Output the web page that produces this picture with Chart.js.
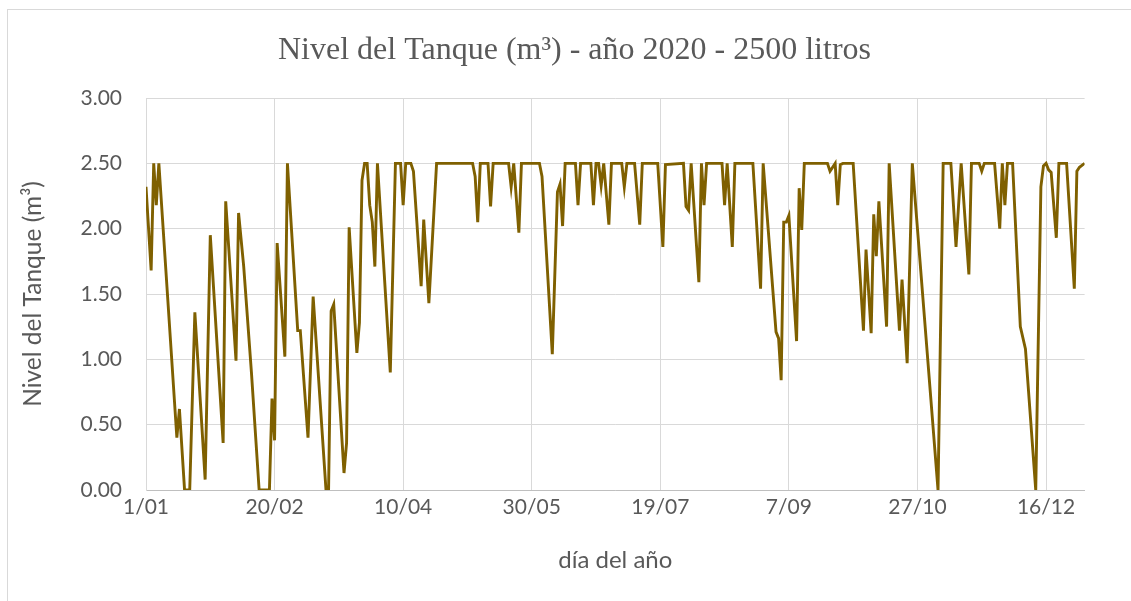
<!DOCTYPE html>
<html lang="es">
<head>
<meta charset="utf-8">
<title>Nivel del Tanque 2020</title>
<script src="https://cdn.jsdelivr.net/npm/chart.js@4"></script>
<style>
  html, body { margin: 0; padding: 0; background: #ffffff; overflow: hidden; }
  #marco {
    position: absolute; left: 7px; top: 9px; width: 1300px; height: 700px;
    border-left: 1px solid #d9d9d9; border-top: 1px solid #d9d9d9;
  }
  #grafico { position: absolute; left: 0; top: 0; }
</style>
</head>
<body>
<div id="marco"></div>
<canvas id="grafico" width="1149" height="601"></canvas>
<script>
// día del año (0 = 1 de enero) de cada vértice de la serie
const dias = [
  0, 2, 3, 4, 5, 12, 13, 15, 17, 19, 23, 25, 30, 31, 35, 36, 38, 41, 44, 48,
  49, 50, 51, 54, 55, 59, 60, 63, 65, 70, 71, 72, 73, 77, 78, 79, 82, 83, 84, 85,
  86, 87, 88, 89, 90, 95, 97, 99, 100, 101, 103, 104, 107, 108, 110, 113, 127, 128, 129, 130,
  133, 134, 135, 141, 142, 143, 145, 146, 153, 154, 158, 160, 161, 162, 163, 167, 168, 169, 173, 174,
  175, 176, 177, 178, 180, 181, 185, 186, 187, 190, 192, 193, 199, 201, 202, 209, 210, 211, 212, 215,
  216, 217, 218, 224, 225, 226, 228, 229, 236, 239, 240, 245, 246, 247, 248, 249, 250, 253, 254, 255,
  256, 265, 266, 268, 269, 270, 271, 275, 279, 280, 282, 283, 284, 285, 288, 289, 293, 294, 296, 298,
  308, 310, 313, 315, 317, 320, 321, 324, 325, 326, 330, 332, 333, 334, 335, 337, 340, 342, 346, 348,
  349, 350, 351, 352, 354, 355, 358, 361, 362, 363, 365
];

// nivel del tanque en m³ para cada día de la lista anterior
const nivel = [
  2.32, 1.68, 2.50, 2.18, 2.50, 0.40, 0.62, 0.00, 0.00, 1.36, 0.08, 1.95, 0.36, 2.21, 0.99, 2.12, 1.71, 0.90, 0.00, 0.00,
  0.70, 0.38, 1.89, 1.02, 2.50, 1.22, 1.22, 0.40, 1.48, 0.00, 0.00, 1.37, 1.42, 0.13, 0.36, 2.01, 1.05, 1.28, 2.37, 2.50,
  2.50, 2.18, 2.05, 1.71, 2.50, 0.90, 2.50, 2.50, 2.18, 2.50, 2.50, 2.44, 1.56, 2.07, 1.43, 2.50, 2.50, 2.40, 2.05, 2.50,
  2.50, 2.17, 2.50, 2.50, 2.32, 2.50, 1.97, 2.50, 2.50, 2.40, 1.04, 2.28, 2.34, 2.02, 2.50, 2.50, 2.18, 2.50, 2.50, 2.18,
  2.50, 2.50, 2.33, 2.50, 2.03, 2.50, 2.50, 2.32, 2.50, 2.50, 2.03, 2.50, 2.50, 1.86, 2.49, 2.50, 2.17, 2.14, 2.50, 1.59,
  2.50, 2.18, 2.50, 2.50, 2.18, 2.50, 1.86, 2.50, 2.50, 1.54, 2.50, 1.21, 1.16, 0.84, 2.05, 2.05, 2.10, 1.14, 2.31, 1.99,
  2.50, 2.50, 2.44, 2.50, 2.18, 2.49, 2.50, 2.50, 1.22, 1.84, 1.20, 2.11, 1.79, 2.21, 1.25, 2.50, 1.22, 1.61, 0.97, 2.50,
  0.00, 2.50, 2.50, 1.86, 2.50, 1.65, 2.50, 2.50, 2.44, 2.50, 2.50, 2.00, 2.50, 2.18, 2.50, 2.50, 1.25, 1.08, 0.00, 2.32,
  2.48, 2.50, 2.45, 2.43, 1.93, 2.50, 2.50, 1.54, 2.44, 2.47, 2.50
];

// etiquetas del eje horizontal, una cada 50 días
const diasEtiqueta = [0, 50, 100, 150, 200, 250, 300, 350];
const etiquetasX = ['1/01', '20/02', '10/04', '30/05', '19/07', '7/09', '27/10', '16/12'];

const grisTexto = '#595959';
const grisRejilla = '#d9d9d9';

const puntos = dias.map((d, i) => ({ x: d, y: nivel[i] }));

const ctx = document.getElementById('grafico').getContext('2d');
new Chart(ctx, {
  type: 'line',
  data: {
    datasets: [{
      label: 'Nivel del Tanque (m³)',
      data: puntos,
      borderColor: '#7f6000',
      borderWidth: 2.9,
      pointRadius: 0,
      tension: 0,
      fill: false
    }]
  },
  options: {
    responsive: false,
    animation: false,
    events: [],
    // margen simétrico para que el título quede centrado en el marco
    layout: { padding: { left: 64.4, right: 64.4, top: 0, bottom: 0 } },
    plugins: {
      legend: { display: false },
      tooltip: { enabled: false },
      title: {
        display: true,
        text: 'Nivel del Tanque (m³) - año 2020 - 2500 litros',
        color: grisTexto,
        font: { family: "'Liberation Serif', 'Times New Roman', serif", size: 32, weight: 'normal' },
        padding: { top: 31, bottom: 28.6 }
      }
    },
    scales: {
      x: {
        type: 'linear',
        min: 0,
        max: 365,
        afterBuildTicks: (scale) => {
          scale.ticks = diasEtiqueta.map(v => ({ value: v }));
        },
        afterFit: (scale) => { scale.height = 111; },
        ticks: {
          autoSkip: false,
          maxRotation: 0,
          padding: 5,
          color: grisTexto,
          font: { family: 'Lato', size: 21 },
          callback: (value, index) => etiquetasX[index]
        },
        grid: { color: grisRejilla, lineWidth: 1, drawTicks: false },
        border: { color: '#bfbfbf', width: 1 },
        title: {
          display: true,
          text: 'día del año',
          color: grisTexto,
          font: { family: 'Lato', size: 24 },
          padding: { top: 0, bottom: 26.6 }
        }
      },
      y: {
        min: 0,
        max: 3,
        // el eje ocupa de x = 64.4 a x = 146; el título se desplaza hacia la izquierda
        afterFit: (scale) => { scale.width = 81.6; },
        ticks: {
          stepSize: 0.5,
          padding: 24,
          color: grisTexto,
          font: { family: 'Lato', size: 21 },
          callback: (value) => value.toFixed(2)
        },
        grid: { color: grisRejilla, lineWidth: 1, drawTicks: false },
        border: { color: grisRejilla, width: 1 },
        title: {
          display: true,
          text: 'Nivel del Tanque (m³)',
          color: grisTexto,
          font: { family: 'Lato', size: 24.5 },
          padding: { top: -45.8, bottom: 0 }
        }
      }
    }
  }
});
</script>
</body>
</html>
